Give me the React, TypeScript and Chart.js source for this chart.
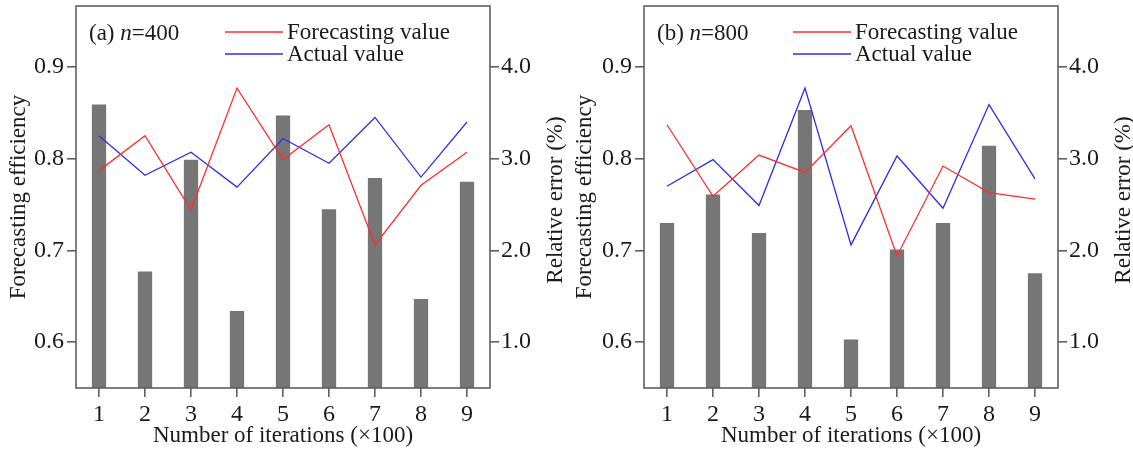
import React, { useEffect, useRef } from "react";
import { Chart, registerables } from "chart.js";

Chart.register(...registerables);

// ---------- data ----------
const CATEGORIES = ["1", "2", "3", "4", "5", "6", "7", "8", "9"];
const LEFT_TICKS = [0.6, 0.7, 0.8, 0.9];
const RIGHT_TICKS = [1, 2, 3, 4];

const A_ERROR = [3.59, 1.77, 2.99, 1.34, 3.47, 2.45, 2.79, 1.47, 2.75];
const A_FORECAST = [0.787, 0.825, 0.744, 0.877, 0.799, 0.837, 0.706, 0.771, 0.807];
const A_ACTUAL = [0.825, 0.782, 0.807, 0.769, 0.822, 0.795, 0.845, 0.78, 0.84];

const B_ERROR = [2.3, 2.61, 2.19, 3.53, 1.03, 2.01, 2.3, 3.14, 1.75];
const B_FORECAST = [0.837, 0.759, 0.804, 0.785, 0.836, 0.694, 0.792, 0.763, 0.756];
const B_ACTUAL = [0.77, 0.799, 0.749, 0.877, 0.706, 0.803, 0.746, 0.859, 0.778];

const SERIF = "'Liberation Serif', 'Times New Roman', serif";
const FRAME = "#5f5f5f";
const TEXT = "#1a1a1a";
const RED = "rgb(255,45,45)";
const BLUE = "rgb(45,45,235)";
const BAR = "#767676";

type PanelCfg = {
  letter: string;
  n: string;
  left: number;
  width: number;
  leftAxisWidth: number;
  rightAxisWidth: number;
  error: number[];
  forecast: number[];
  actual: number[];
};

const PANELS: PanelCfg[] = [
  { letter: "a", n: "400", left: 0, width: 566, leftAxisWidth: 76, rightAxisWidth: 76, error: A_ERROR, forecast: A_FORECAST, actual: A_ACTUAL },
  { letter: "b", n: "800", left: 566, width: 567, leftAxisWidth: 78, rightAxisWidth: 75, error: B_ERROR, forecast: B_FORECAST, actual: B_ACTUAL },
];

const decoPlugin = {
  id: "deco",
  afterDatasetsDraw(chart: any, _args: any, opts: any) {
    const { ctx, chartArea: ca } = chart;
    ctx.save();
    // frame
    ctx.strokeStyle = FRAME;
    ctx.lineWidth = 1.6;
    ctx.strokeRect(ca.left, ca.top, ca.right - ca.left, ca.bottom - ca.top);

    // panel label
    ctx.fillStyle = TEXT;
    ctx.textAlign = "left";
    ctx.textBaseline = "alphabetic";
    let x = ca.left + 13;
    const y = 40;
    ctx.font = `23px ${SERIF}`;
    const p1 = `(${opts.letter}) `;
    ctx.fillText(p1, x, y);
    x += ctx.measureText(p1).width;
    ctx.font = `italic 23px ${SERIF}`;
    ctx.fillText("n", x, y);
    x += ctx.measureText("n").width;
    ctx.font = `23px ${SERIF}`;
    ctx.fillText(`=${opts.n}`, x, y);

    // legend
    const lines = chart.data.datasets.filter((d: any) => d.type === "line");
    lines.forEach((d: any, i: number) => {
      const ly = 32 + i * 22;
      ctx.strokeStyle = d.borderColor;
      ctx.lineWidth = d.borderWidth;
      ctx.beginPath();
      ctx.moveTo(ca.left + 149, ly);
      ctx.lineTo(ca.left + 207, ly);
      ctx.stroke();
      ctx.fillStyle = TEXT;
      ctx.textBaseline = "middle";
      ctx.font = `23px ${SERIF}`;
      ctx.fillText(d.label, ca.left + 211, ly + 1);
    });

    // right axis title (reads bottom-to-top)
    ctx.translate(ca.right + 72, (ca.top + ca.bottom) / 2 + 3);
    ctx.rotate(-Math.PI / 2);
    ctx.textAlign = "center";
    ctx.textBaseline = "alphabetic";
    ctx.fillStyle = TEXT;
    ctx.font = `23px ${SERIF}`;
    ctx.fillText(opts.rightTitle, 0, 0);
    ctx.restore();
  },
};

function Panel({ cfg }: { cfg: PanelCfg }) {
  const ref = useRef<HTMLCanvasElement>(null);
  useEffect(() => {
    const chart = new Chart(ref.current as HTMLCanvasElement, {
      type: "bar",
      data: {
        labels: CATEGORIES,
        datasets: [
          {
            type: "line",
            label: "Forecasting value",
            data: cfg.forecast,
            yAxisID: "y",
            borderColor: RED,
            borderWidth: 1.3,
            pointRadius: 0,
            tension: 0,
            fill: false,
            order: 0,
          } as any,
          {
            type: "line",
            label: "Actual value",
            data: cfg.actual,
            yAxisID: "y",
            borderColor: BLUE,
            borderWidth: 1.3,
            pointRadius: 0,
            tension: 0,
            fill: false,
            order: 1,
          } as any,
          {
            type: "bar",
            label: "Relative error",
            data: cfg.error,
            yAxisID: "y1",
            backgroundColor: BAR,
            borderWidth: 0,
            barPercentage: 0.31,
            categoryPercentage: 1,
            order: 2,
          } as any,
        ],
      },
      options: {
        responsive: false,
        animation: false,
        devicePixelRatio: 1,
        layout: { padding: { top: 6, left: 0, right: 0, bottom: 0 } },
        plugins: {
          legend: { display: false },
          tooltip: { enabled: false },
          deco: { letter: cfg.letter, n: cfg.n, rightTitle: "Relative error (%)" },
        } as any,
        scales: {
          x: {
            type: "category",
            offset: true,
            grid: {
              display: true,
              drawOnChartArea: false,
              drawTicks: true,
              tickLength: 9,
              color: FRAME,
              lineWidth: 1.6,
              offset: false,
            },
            border: { display: false },
            ticks: {
              font: { family: SERIF, size: 24 },
              color: TEXT,
              padding: 3,
              maxRotation: 0,
              autoSkip: false,
            },
            title: {
              display: true,
              text: "Number of iterations (×100)",
              font: { family: SERIF, size: 23 },
              color: TEXT,
              padding: { top: 0, bottom: 3 },
            },
            afterFit(s: any) {
              s.height = 65;
              s.paddingLeft = 0;
              s.paddingRight = 0;
            },
          } as any,
          y: {
            type: "linear",
            position: "left",
            min: 0.55,
            max: 0.9665,
            afterBuildTicks(s: any) {
              s.ticks = LEFT_TICKS.map((v) => ({ value: v }));
            },
            grid: {
              display: true,
              drawOnChartArea: false,
              drawTicks: true,
              tickLength: 9,
              color: FRAME,
              lineWidth: 1.6,
            },
            border: { display: false },
            ticks: {
              font: { family: SERIF, size: 24 },
              color: TEXT,
              padding: 3,
              callback: (v: any) => Number(v).toFixed(1),
            },
            title: {
              display: true,
              text: "Forecasting efficiency",
              font: { family: SERIF, size: 23 },
              color: TEXT,
              padding: { top: 5, bottom: 0 },
            },
            afterFit(s: any) {
              s.width = cfg.leftAxisWidth;
              s.paddingTop = 0;
              s.paddingBottom = 0;
            },
          } as any,
          y1: {
            type: "linear",
            position: "right",
            min: 0.5,
            max: 4.665,
            afterBuildTicks(s: any) {
              s.ticks = RIGHT_TICKS.map((v) => ({ value: v }));
            },
            grid: {
              display: true,
              drawOnChartArea: false,
              drawTicks: true,
              tickLength: 9,
              color: FRAME,
              lineWidth: 1.6,
            },
            border: { display: false },
            ticks: {
              font: { family: SERIF, size: 24 },
              color: TEXT,
              padding: 2,
              callback: (v: any) => Number(v).toFixed(1),
            },
            afterFit(s: any) {
              s.width = cfg.rightAxisWidth;
              s.paddingTop = 0;
              s.paddingBottom = 0;
            },
          } as any,
        },
      },
      plugins: [decoPlugin as any],
    });
    return () => chart.destroy();
  }, []);
  return (
    <canvas
      ref={ref}
      width={cfg.width}
      height={453}
      style={{ position: "absolute", left: cfg.left, top: 0, width: cfg.width, height: 453 }}
    />
  );
}

export default function App() {
  return (
    <div style={{ position: "fixed", left: 0, top: 0, width: 1133, height: 453, background: "#fff" }}>
      {PANELS.map((p) => (
        <Panel key={p.letter} cfg={p} />
      ))}
    </div>
  );
}
